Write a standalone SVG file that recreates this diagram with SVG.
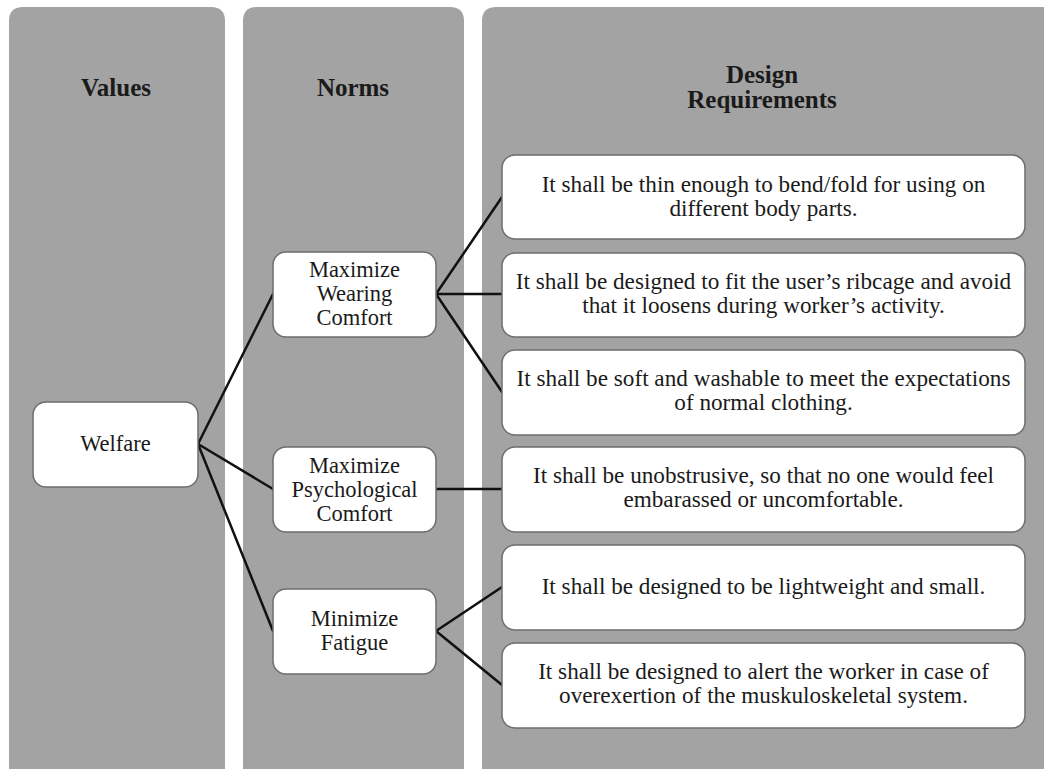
<svg xmlns="http://www.w3.org/2000/svg" width="1044" height="769" viewBox="0 0 1044 769">
<style>
.col{fill:#a3a3a3}
.box{fill:#ffffff;stroke:#6e6e6e;stroke-width:1.5}
.hdr{font-family:"Liberation Serif","Times New Roman",serif;font-weight:bold;font-size:25px;fill:#1a1a1a;text-anchor:middle}
.t{font-family:"Liberation Serif","Times New Roman",serif;font-size:22.5px;fill:#1a1a1a;text-anchor:middle}
.r{font-size:23.2px}
.conn line{stroke:#111;stroke-width:2.5;stroke-linecap:round}
</style>
<rect width="1044" height="769" fill="#ffffff"/>
<g id="columns">
<path class="col" d="M9,780 V21 Q9,7 23,7 H211 Q225,7 225,21 V780 Z"/>
<path class="col" d="M243,780 V21 Q243,7 257,7 H450 Q464,7 464,21 V780 Z"/>
<path class="col" d="M482,780 V21 Q482,7 496,7 H1060 V780 Z"/>
<text class="hdr" x="116" y="96">Values</text>
<text class="hdr" x="353" y="96">Norms</text>
<text class="hdr" x="762" y="83">Design</text>
<text class="hdr" x="762" y="108">Requirements</text>
</g>
<g class="conn" id="connectors">
<line x1="198" y1="444" x2="273" y2="294"/>
<line x1="198" y1="444" x2="273" y2="489"/>
<line x1="198" y1="444" x2="273" y2="631"/>
<line x1="436" y1="294" x2="502" y2="197"/>
<line x1="436" y1="294" x2="502" y2="294"/>
<line x1="436" y1="294" x2="502" y2="392"/>
<line x1="436" y1="489" x2="502" y2="489"/>
<line x1="436" y1="631" x2="502" y2="587"/>
<line x1="436" y1="631" x2="502" y2="685"/>
</g>
<g id="welfare">
<rect class="box" x="33" y="402" width="165" height="85" rx="13"/>
<text class="t" x="115.5" y="451">Welfare</text>
</g>
<g id="wearing">
<rect class="box" x="273" y="252" width="163" height="85" rx="13"/>
<text class="t" x="354.5" y="277">Maximize</text>
<text class="t" x="354.5" y="301">Wearing</text>
<text class="t" x="354.5" y="325">Comfort</text>
</g>
<g id="psych">
<rect class="box" x="273" y="447" width="163" height="85" rx="13"/>
<text class="t" x="354.5" y="473">Maximize</text>
<text class="t" x="354.5" y="497">Psychological</text>
<text class="t" x="354.5" y="521">Comfort</text>
</g>
<g id="fatigue">
<rect class="box" x="273" y="589" width="163" height="85" rx="13"/>
<text class="t" x="354.5" y="626">Minimize</text>
<text class="t" x="354.5" y="650">Fatigue</text>
</g>
<g id="req1">
<rect class="box" x="502" y="155" width="523" height="84" rx="13"/>
<text class="t r" x="763.5" y="192">It shall be thin enough to bend/fold for using on</text>
<text class="t r" x="763.5" y="216">different body parts.</text>
</g>
<g id="req2">
<rect class="box" x="502" y="253" width="523" height="84" rx="13"/>
<text class="t r" x="763.5" y="289">It shall be designed to fit the user’s ribcage and avoid</text>
<text class="t r" x="763.5" y="313">that it loosens during worker’s activity.</text>
</g>
<g id="req3">
<rect class="box" x="502" y="350" width="523" height="85" rx="13"/>
<text class="t r" x="763.5" y="386">It shall be soft and washable to meet the expectations</text>
<text class="t r" x="763.5" y="410">of normal clothing.</text>
</g>
<g id="req4">
<rect class="box" x="502" y="447" width="523" height="85" rx="13"/>
<text class="t r" x="763.5" y="483">It shall be unobstrusive, so that no one would feel</text>
<text class="t r" x="763.5" y="507">embarassed or uncomfortable.</text>
</g>
<g id="req5">
<rect class="box" x="502" y="545" width="523" height="85" rx="13"/>
<text class="t r" x="763.5" y="594">It shall be designed to be lightweight and small.</text>
</g>
<g id="req6">
<rect class="box" x="502" y="643" width="523" height="85" rx="13"/>
<text class="t r" x="763.5" y="679">It shall be designed to alert the worker in case of</text>
<text class="t r" x="763.5" y="703">overexertion of the muskuloskeletal system.</text>
</g>
</svg>
